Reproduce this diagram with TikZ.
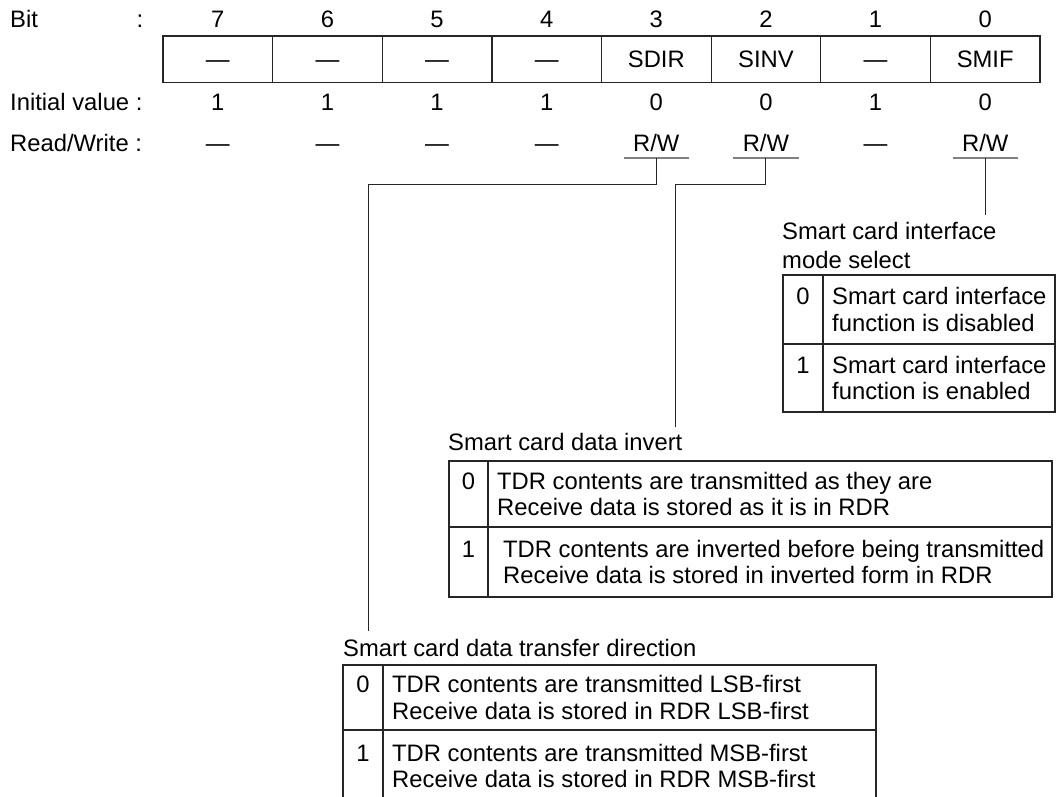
\documentclass[tikz,border=0pt]{standalone}
\usepackage{fontspec}
\setmainfont{Liberation Sans}
\usetikzlibrary{positioning}

\begin{document}
\begin{tikzpicture}[
    x=1pt, y=-1pt,
    font=\fontsize{23.8}{26.5}\selectfont,
    tblline/.style={draw=black!85, line width=1.2pt, outer sep=0pt},
    bitcell/.style={
        tblline,
        minimum width=109.6pt,
        minimum height=46.5pt,
        inner sep=0pt,
        text height=17pt,
        text depth=0pt
    },
    val/.style={anchor=base, inner sep=0pt},
    head/.style={anchor=base west, inner sep=0pt},
    rw/.style={anchor=base, inner sep=0pt, text depth=7pt, minimum width=65pt},
    uline/.style={draw=black!50, line width=1.5pt},
    wire/.style={draw=black!85, line width=1pt},
    tbltitle/.style={
        anchor=north west,
        inner sep=0pt,
        align=left,
        font=\fontsize{23.8}{29}\selectfont
    },
    numcell/.style={tblline, minimum width=40pt, inner sep=0pt},
    txtcell/.style={tblline, inner sep=0pt},
    celltxt/.style={anchor=west, inner sep=0pt, align=left},
    digit/.style={anchor=base, inner sep=0pt, yshift=-17.3pt}
]
\clip (0,0) rectangle (1063,796);

% bit numbers
\node[head] (bitHd) at (10,27) {Bit};
\node[val] (bitCol) at (140,27) {:};
\node[val] (b7) at (217.8,27) {7};
\node[val] (b6) at (327.4,27) {6};
\node[val] (b5) at (437.1,27) {5};
\node[val] (b4) at (546.7,27) {4};
\node[val] (b3) at (656.3,27) {3};
\node[val] (b2) at (765.9,27) {2};
\node[val] (b1) at (875.6,27) {1};
\node[val] (b0) at (985.2,27) {0};

% register
\node[bitcell] (r7) at (217.8,59.3) {\textemdash};
\node[bitcell] (r6) at (327.4,59.3) {\textemdash};
\node[bitcell] (r5) at (437.1,59.3) {\textemdash};
\node[bitcell] (r4) at (546.7,59.3) {\textemdash};
\node[bitcell] (r3) at (656.3,59.3) {SDIR};
\node[bitcell] (r2) at (765.9,59.3) {SINV};
\node[bitcell] (r1) at (875.6,59.3) {\textemdash};
\node[bitcell] (r0) at (985.2,59.3) {SMIF};

% initial values
\node[head] (ivHd) at (10,110) {Initial value :};
\node[val] (iv7) at (217.8,110) {1};
\node[val] (iv6) at (327.4,110) {1};
\node[val] (iv5) at (437.1,110) {1};
\node[val] (iv4) at (546.7,110) {1};
\node[val] (iv3) at (656.3,110) {0};
\node[val] (iv2) at (765.9,110) {0};
\node[val] (iv1) at (875.6,110) {1};
\node[val] (iv0) at (985.2,110) {0};

% read/write
\node[head] (rwHd) at (10,151) {Read/Write :};
\node[val] (rw7) at (217.8,151) {\textemdash};
\node[val] (rw6) at (327.4,151) {\textemdash};
\node[val] (rw5) at (437.1,151) {\textemdash};
\node[val] (rw4) at (546.7,151) {\textemdash};
\node[rw] (rw3) at (656.3,151) {R/W};
\node[rw] (rw2) at (765.9,151) {R/W};
\node[val] (rw1) at (875.6,151) {\textemdash};
\node[rw] (rw0) at (985.2,151) {R/W};

\draw[uline] (rw3.south west) -- (rw3.south east);
\draw[uline] (rw2.south west) -- (rw2.south east);
\draw[uline] (rw0.south west) -- (rw0.south east);

% SMIF table
\node[tbltitle] (mifLbl) at (782,222) {Smart card interface\\mode select};
\node[numcell, minimum height=69pt] (mif0n) at (803,309.5) {};
\node[txtcell, minimum width=232pt, minimum height=69pt] (mif0t) at (939,309.5) {};
\node[celltxt, right=9pt of mif0t.west] (mif0x) {Smart card interface\\function is disabled};
\node[digit] (mif0d) at (mif0n.center |- mif0x.north) {0};
\node[numcell, minimum height=68pt] (mif1n) at (803,378) {};
\node[txtcell, minimum width=232pt, minimum height=68pt] (mif1t) at (939,378) {};
\node[celltxt, right=9pt of mif1t.west] (mif1x) {Smart card interface\\function is enabled};
\node[digit] (mif1d) at (mif1n.center |- mif1x.north) {1};

% SINV table
\node[tbltitle] (invLbl) at (448,433) {Smart card data invert};
\node[numcell, minimum width=39pt, minimum height=66pt] (inv0n) at (468.5,494) {};
\node[txtcell, minimum width=564pt, minimum height=66pt] (inv0t) at (770,494) {};
\node[celltxt, right=9pt of inv0t.west] (inv0x)
{TDR contents are transmitted as they are\\
Receive data is stored as it is in RDR};
\node[digit] (inv0d) at (inv0n.center |- inv0x.north) {0};
\node[numcell, minimum width=39pt, minimum height=70pt] (inv1n) at (468.5,562) {};
\node[txtcell, minimum width=564pt, minimum height=70pt] (inv1t) at (770,562) {};
\node[celltxt, right=15pt of inv1t.west] (inv1x)
{TDR contents are inverted before being transmitted\\
Receive data is stored in inverted form in RDR};
\node[digit] (inv1d) at (inv1n.center |- inv1x.north) {1};

% SDIR table
\node[tbltitle] (dirLbl) at (343,639) {Smart card data transfer direction};
\node[numcell, minimum height=65pt] (dir0n) at (363,697.5) {};
\node[txtcell, minimum width=493pt, minimum height=65pt] (dir0t) at (629.5,697.5) {};
\node[celltxt, right=9pt of dir0t.west] (dir0x)
{TDR contents are transmitted LSB-first\\
Receive data is stored in RDR LSB-first};
\node[digit] (dir0d) at (dir0n.center |- dir0x.north) {0};
\node[numcell, minimum height=72pt] (dir1n) at (363,766) {};
\node[txtcell, minimum width=493pt, minimum height=72pt] (dir1t) at (629.5,766) {};
\node[celltxt, right=9pt of dir1t.west] (dir1x)
{TDR contents are transmitted MSB-first\\
Receive data is stored in RDR MSB-first};
\node[digit] (dir1d) at (dir1n.center |- dir1x.north) {1};

% leaders
\coordinate (mifEnd) at (985.2,215);
\coordinate (invEnd) at (675,427);
\coordinate (dirEnd) at (368,631);
\draw[wire] (rw0.south) -- (mifEnd);
\draw[wire] (rw2.south) -- ++(0,26) -| (invEnd);
\draw[wire] (rw3.south) -- ++(0,26) -| (dirEnd);

\end{tikzpicture}
\end{document}
